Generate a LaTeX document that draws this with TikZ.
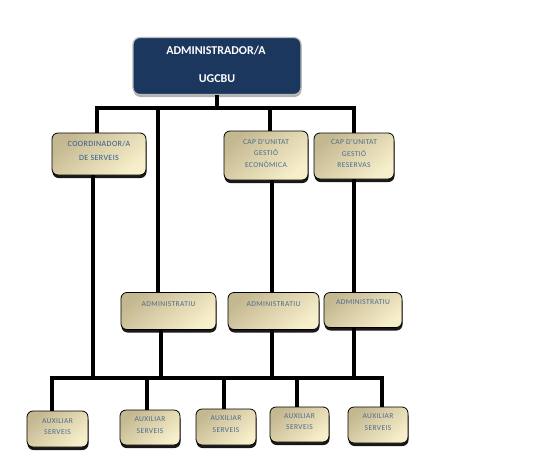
\documentclass[tikz,border=0pt]{standalone}
\usepackage{fontspec}
\setmainfont{Carlito}
\newfontfamily\boxfont[LetterSpace=5]{Carlito}
\usetikzlibrary{shadows}
\definecolor{navy}{HTML}{1C375E}
\definecolor{tanD}{HTML}{C4B890}
\definecolor{tanL}{HTML}{F7EFCB}
\definecolor{txtblue}{HTML}{4C6C8E}
\definecolor{txtblueD}{HTML}{2F5C8C}
\tikzset{
  x=1pt, y=-1pt,
  topbox/.style={draw=gray!55, line width=1.2pt, rounded corners=7pt, fill=navy,
    drop shadow={shadow xshift=0.5pt, shadow yshift=-2.5pt, fill=gray!60, opacity=1},
    inner sep=0pt},
  orgbox/.style={draw=black, line width=0.8pt, rounded corners=6pt,
    top color=tanD, bottom color=tanL, shading angle=40,
    drop shadow={shadow xshift=0.5pt, shadow yshift=-3pt, fill=black, opacity=0.9},
    inner sep=0pt},
  lbl/.style={anchor=north, inner sep=0pt, align=center, text=txtblue,
    font=\boxfont\fontsize{7.5}{11.5}\selectfont},
  toptxt/.style={anchor=center, text=white, font=\fontsize{12}{14}\selectfont\bfseries},
  conn/.style={draw=black, line width=3.2pt},
}
\begin{document}
\begin{tikzpicture}
\useasboundingbox (0,0) rectangle (533,464);
\coordinate (busA) at (0,108);
\coordinate (busB) at (0,378);

% boxes
\node[topbox, minimum width=168pt, minimum height=57pt] (top) at (217,66) {};
\node[toptxt] (topt1) at (216,51) {ADMINISTRADOR/A};
\node[toptxt] (topt2) at (217,79) {UGCBU};

\node[orgbox, minimum width=94pt, minimum height=42pt] (coord) at (99,154) {};
\node[orgbox, minimum width=84pt, minimum height=49pt] (capge) at (266,155.5) {};
\node[orgbox, minimum width=80pt, minimum height=46pt] (capgr) at (354,156) {};
\node[orgbox, minimum width=95pt, minimum height=37pt] (adm1) at (168.5,311) {};
\node[orgbox, minimum width=91pt, minimum height=37pt] (adm2) at (273.5,311) {};
\node[orgbox, minimum width=78pt, minimum height=35pt] (adm3) at (363,310) {};
\node[orgbox, minimum width=61pt, minimum height=36pt] (aux1) at (57.5,429) {};
\node[orgbox, minimum width=60pt, minimum height=35pt] (aux2) at (150,427.5) {};
\node[orgbox, minimum width=60pt, minimum height=36pt] (aux3) at (226,427) {};
\node[orgbox, minimum width=59pt, minimum height=35pt] (aux4) at (299.5,424.5) {};
\node[orgbox, minimum width=60pt, minimum height=36pt] (aux5) at (378,425) {};

% connectors
\draw[conn] (top.south) -- (top.south |- busA);
\draw[conn] ([xshift=-2pt]coord.north) |- (capgr.north |- busA) -- (capgr.north);
\draw[conn] ([xshift=4pt]capge.north |- busA) -- ([xshift=4pt]capge.north);
\draw[conn] ([xshift=-10.5pt]adm1.north |- busA) -- ([xshift=-10.5pt]adm1.north);
\draw[conn] ([xshift=-6pt]coord.south) -- ([xshift=-6pt]coord.south |- busB);
\draw[conn] ([xshift=-1.5pt]adm2.north |- capge.south) -- ([xshift=-1.5pt]adm2.north);
\draw[conn] (capgr.south) -- ([xshift=-9pt]adm3.north);
\draw[conn] ([xshift=-7.5pt]adm1.south) -- ([xshift=-7.5pt]adm1.south |- busB);
\draw[conn] ([xshift=-1.5pt]adm2.south) -- ([xshift=-1.5pt]adm2.south |- busB);
\draw[conn] ([xshift=-9pt]adm3.south) -- ([xshift=-9pt]adm3.south |- busB);
\draw[conn] ([xshift=-5.5pt]aux1.north) |- ([xshift=4pt]aux5.north |- busB) -- ([xshift=4pt]aux5.north);
\draw[conn] ([xshift=-3pt]aux2.north |- busB) -- ([xshift=-3pt]aux2.north);
\draw[conn] ([xshift=-2pt]aux3.north |- busB) -- ([xshift=-2pt]aux3.north);
\draw[conn] ([xshift=-2.5pt]aux4.north |- busB) -- ([xshift=-2.5pt]aux4.north);

% labels
\node[lbl, text=txtblueD, font=\boxfont\fontsize{8}{14}\selectfont] (coordt) at ([yshift=-8pt]coord.north) {COORDINADOR/A\\DE SERVEIS};
\node[lbl] (capget) at ([yshift=-8.5pt]capge.north) {CAP D'UNITAT\\GESTIÓ\\ECONÒMICA};
\node[lbl] (capgrt) at ([yshift=-7pt]capgr.north) {CAP D'UNITAT\\GESTIÓ\\RESERVAS};
\node[lbl] (adm1t) at ([yshift=-9pt]adm1.north) {ADMINISTRATIU};
\node[lbl] (adm2t) at ([yshift=-9pt]adm2.north) {ADMINISTRATIU};
\node[lbl] (adm3t) at ([yshift=-7pt]adm3.north) {ADMINISTRATIU};
\node[lbl] (aux1t) at ([yshift=-7.5pt]aux1.north) {AUXILIAR\\SERVEIS};
\node[lbl] (aux2t) at ([yshift=-7pt]aux2.north) {AUXILIAR\\SERVEIS};
\node[lbl] (aux3t) at ([yshift=-7pt]aux3.north) {AUXILIAR\\SERVEIS};
\node[lbl] (aux4t) at ([yshift=-6.5pt]aux4.north) {AUXILIAR\\SERVEIS};
\node[lbl] (aux5t) at ([yshift=-7pt]aux5.north) {AUXILIAR\\SERVEIS};
\end{tikzpicture}
\end{document}
